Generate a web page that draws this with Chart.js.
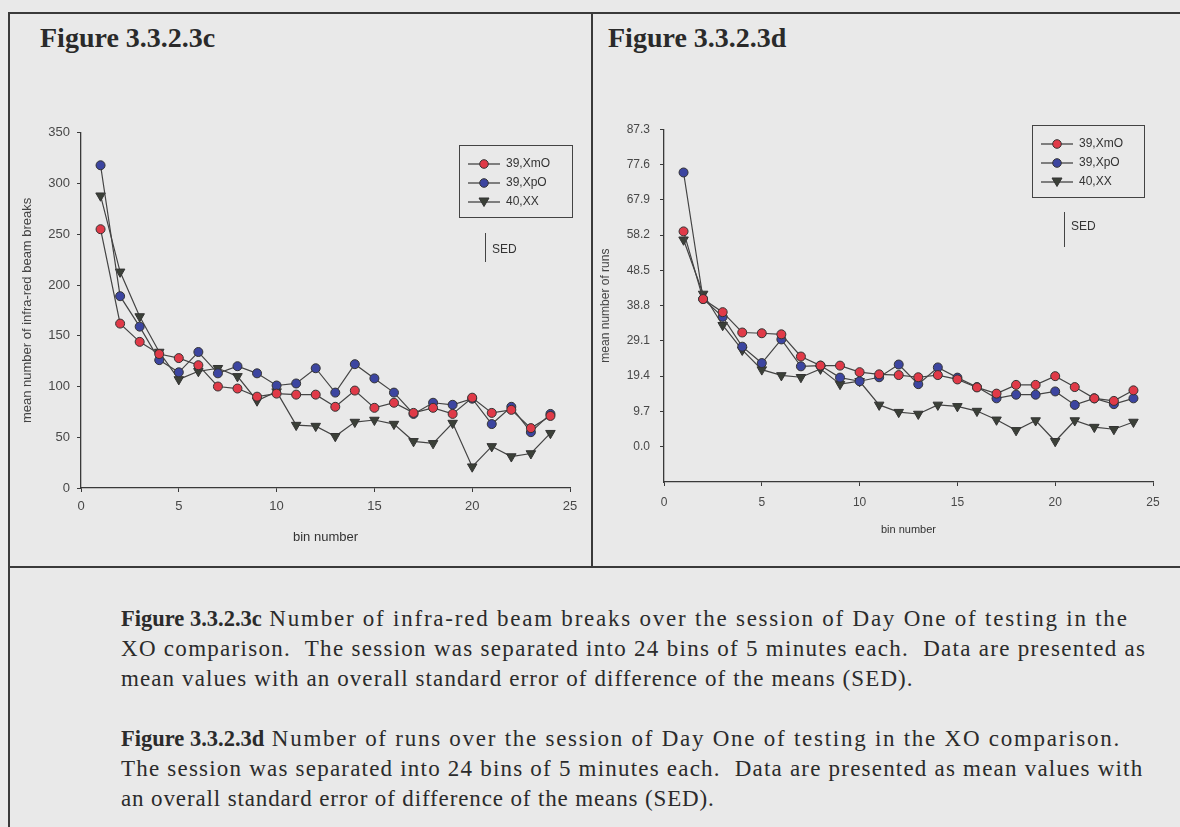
<!DOCTYPE html>
<html>
<head>
<meta charset="utf-8">
<script src="https://cdn.jsdelivr.net/npm/chart.js@4.4.0/dist/chart.umd.min.js"></script>
<style>
    body { margin: 0; background: #e9e9e9; width: 1180px; height: 827px; overflow: hidden; position: relative; font-family: "Liberation Sans", Arial, sans-serif; }
    .rule { position: absolute; background: #3a3a3a; }
    .figTitle { position: absolute; font-family: "Liberation Serif", serif; font-weight: bold; font-size: 28px; color: #2a2a2a; line-height: 1; }
    canvas { position: absolute; }
    .legend { position: absolute; border: 1px solid #444; box-sizing: border-box; font-size: 12px; color: #333; }
    .legend .row { position: absolute; left: 8px; height: 18px; line-height: 18px; white-space: nowrap; }
    .legend svg { vertical-align: middle; margin-right: 6px; }
    .sed { position: absolute; border-left: 1.5px solid #444; font-size: 12px; color: #333; padding-left: 6px; }
    .caption { position: absolute; left: 121px; font-family: "Liberation Serif", serif; font-size: 23px; line-height: 30px; color: #2b2b2b; white-space: nowrap; }
    .caption div { height: 30px; }
    .caption b { letter-spacing: 0; font-size: 22.5px; }
</style>
</head>
<body>

<div class="rule" style="left:8px; top:12px; width:1172px; height:1.5px;"></div>
<div class="rule" style="left:8px; top:12px; width:1.5px; height:815px;"></div>
<div class="rule" style="left:591px; top:12px; width:1.5px; height:555px;"></div>
<div class="rule" style="left:8px; top:566px; width:1172px; height:1.5px;"></div>

<div class="figTitle" style="left:40px; top:24px;">Figure 3.3.2.3c</div>
<div class="figTitle" style="left:608px; top:24px;">Figure 3.3.2.3d</div>

<canvas id="beamChart" width="578" height="445" style="left:10px; top:118px;"></canvas>
<canvas id="runChart" width="578" height="445" style="left:596px; top:112px;"></canvas>

<div id="beamLegend" class="legend" style="left:459px; top:145px; width:114px; height:73px;"></div>
<div id="runLegend" class="legend" style="left:1032px; top:125px; width:113px; height:73px;"></div>

<div class="sed" style="left:485px; top:233px; height:29px; line-height:32px;">SED</div>
<div class="sed" style="left:1064px; top:212px; height:35px; line-height:28px;">SED</div>

<div class="caption" style="top:604px;">
    <div style="letter-spacing:1.77px;"><b>Figure 3.3.2.3c</b> Number of infra-red beam breaks over the session of Day One of testing in the</div>
    <div style="letter-spacing:1.29px;">XO comparison.&nbsp; The session was separated into 24 bins of 5 minutes each.&nbsp; Data are presented as</div>
    <div style="letter-spacing:1.1px;">mean values with an overall standard error of difference of the means (SED).</div>
</div>
<div class="caption" style="top:724px;">
    <div style="letter-spacing:1.74px;"><b>Figure 3.3.2.3d</b> Number of runs over the session of Day One of testing in the XO comparison.</div>
    <div style="letter-spacing:1.21px;">The session was separated into 24 bins of 5 minutes each.&nbsp; Data are presented as mean values with</div>
    <div style="letter-spacing:0.87px;">an overall standard error of difference of the means (SED).</div>
</div>

<script>
// bins of 5 minutes
const binNumbers = [1, 2, 3, 4, 5, 6, 7, 8, 9, 10, 11, 12, 13, 14, 15, 16, 17, 18, 19, 20, 21, 22, 23, 24];
const seriesNames = ['39,XmO', '39,XpO', '40,XX'];

// Figure 3.3.2.3c - infra-red beam breaks
const xmoBeams = [255, 162, 144, 132, 128, 121, 100, 98, 90, 93, 92, 92, 80, 96, 79, 84, 74, 79, 73, 89, 74, 77, 59, 71];
const xpoBeams = [318, 189, 159, 126, 114, 134, 113, 120, 113, 101, 103, 118, 94, 122, 108, 94, 73, 84, 82, 88, 63, 80, 55, 73];
const xxBeams = [288, 213, 169, 134, 107, 115, 118, 110, 86, 95, 62, 61, 51, 65, 67, 63, 46, 44, 64, 21, 41, 31, 34, 54];
const beamTicks = [0, 50, 100, 150, 200, 250, 300, 350];

// Figure 3.3.2.3d - runs
const xmoRuns = [59.2, 40.6, 37.0, 31.4, 31.2, 30.9, 24.8, 22.3, 22.3, 20.5, 19.9, 19.7, 19.1, 19.7, 18.5, 16.3, 14.6, 17.0, 17.0, 19.4, 16.4, 13.3, 12.6, 15.5];
const xpoRuns = [75.4, 40.6, 35.7, 27.5, 23.0, 29.5, 22.1, 22.3, 19.0, 18.0, 19.1, 22.6, 17.2, 21.8, 19.0, 16.4, 13.3, 14.3, 14.3, 15.2, 11.5, 13.3, 11.7, 13.3];
const xxRuns = [56.9, 42.0, 33.4, 26.6, 21.2, 19.6, 19.1, 21.4, 17.2, 18.0, 11.5, 9.5, 9.0, 11.5, 11.1, 9.8, 7.4, 4.5, 7.2, 1.5, 7.2, 5.4, 4.8, 6.8];
const runTicks = [0.0, 9.7, 19.4, 29.1, 38.8, 48.5, 58.2, 67.9, 77.6, 87.3];

const binTicks = [0, 5, 10, 15, 20, 25];

const markerFill = ['#e03a48', '#3c45a0', '#3b4038'];
const markerShape = ['circle', 'circle', 'triangle'];
const lineColor = '#444444';
const axisColor = '#3a3a3a';
const labelColor = '#484848';

function makeDatasets(seriesList) {
    return seriesList.map((values, i) => ({
        label: seriesNames[i],
        data: values.map((v, j) => ({ x: binNumbers[j], y: v })),
        borderColor: lineColor,
        borderWidth: 1.2,
        pointStyle: markerShape[i],
        pointRotation: markerShape[i] === 'triangle' ? 180 : 0,
        pointRadius: markerShape[i] === 'triangle' ? 5.5 : 4.5,
        pointBackgroundColor: markerFill[i],
        pointBorderColor: '#333',
        pointBorderWidth: 1,
        tension: 0
    }));
}

function fixedTicks(list) {
    return function (scale) {
        scale.ticks = list.map(v => ({ value: v }));
    };
}

function buildChart(canvasId, seriesList, yTicks, yTitle, opts) {
    const ctx = document.getElementById(canvasId).getContext('2d');
    return new Chart(ctx, {
        type: 'line',
        data: { datasets: makeDatasets(seriesList) },
        options: {
            responsive: false,
            animation: false,
            devicePixelRatio: 1,
            layout: { padding: { top: 14, right: opts.padRight, left: 0, bottom: 0 } },
            plugins: { legend: { display: false }, tooltip: { enabled: false } },
            scales: {
                x: {
                    type: 'linear',
                    min: 0,
                    max: 25,
                    afterBuildTicks: fixedTicks(binTicks),
                    afterFit: function (scale) { scale.height = 75; },
                    grid: { drawOnChartArea: false, drawTicks: true, tickLength: 4, color: axisColor },
                    border: { color: axisColor, width: 1.3 },
                    ticks: { color: labelColor, font: { family: 'Liberation Sans', size: opts.tickSize }, padding: opts.xTickPad, maxRotation: 0 },
                    title: {
                        display: true,
                        text: 'bin number',
                        color: '#333',
                        font: { family: 'Liberation Sans', size: opts.xTitleSize },
                        padding: { top: 0, bottom: opts.xTitlePad }
                    }
                },
                y: {
                    type: 'linear',
                    min: opts.yMin,
                    max: opts.yMax,
                    afterBuildTicks: fixedTicks(yTicks),
                    afterFit: function (scale) { scale.width = opts.yWidth; },
                    grid: { drawOnChartArea: false, drawTicks: true, tickLength: 4, color: axisColor },
                    border: { color: axisColor, width: 1.3 },
                    ticks: {
                        color: labelColor,
                        font: { family: 'Liberation Sans', size: opts.tickSize },
                        padding: opts.yTickPad,
                        callback: opts.yFormat
                    },
                    title: {
                        display: true,
                        text: yTitle,
                        color: '#444',
                        font: { family: 'Liberation Sans', size: opts.yTitleSize },
                        padding: { top: opts.yTitlePad, bottom: 0 }
                    }
                }
            }
        }
    });
}

buildChart('beamChart', [xmoBeams, xpoBeams, xxBeams], beamTicks, 'mean number of infra-red beam breaks', {
    padRight: 18, yMin: 0, yMax: 350, yWidth: 71, yTickPad: 7, yTitlePad: 10, yTitleSize: 13,
    tickSize: 13, xTickPad: 7, xTitleSize: 13, xTitlePad: 18,
    yFormat: v => String(v)
});

buildChart('runChart', [xmoRuns, xpoRuns, xxRuns], runTicks, 'mean number of runs', {
    padRight: 21, yMin: -9.7, yMax: 87.3, yWidth: 68, yTickPad: 10, yTitlePad: 2, yTitleSize: 12,
    tickSize: 12, xTickPad: 9, xTitleSize: 11, xTitlePad: 20,
    yFormat: v => Number(v).toFixed(1)
});

// legend boxes with line + marker samples
function buildLegend(divId) {
    const box = document.getElementById(divId);
    seriesNames.forEach((name, i) => {
        const row = document.createElement('div');
        row.className = 'row';
        row.style.top = (8 + i * 19) + 'px';
        let marker = `<circle cx="16" cy="9" r="4.3" fill="${markerFill[i]}" stroke="#333" stroke-width="1"/>`;
        if (markerShape[i] === 'triangle') {
            marker = `<polygon points="16,13.5 11,5 21,5" fill="${markerFill[i]}" stroke="#333" stroke-width="1"/>`;
        }
        row.innerHTML = `<svg width="32" height="18"><line x1="0" y1="9" x2="32" y2="9" stroke="${lineColor}" stroke-width="1.3"/>${marker}</svg>${name}`;
        box.append(row);
    });
}

buildLegend('beamLegend');
buildLegend('runLegend');
</script>
</body>
</html>
